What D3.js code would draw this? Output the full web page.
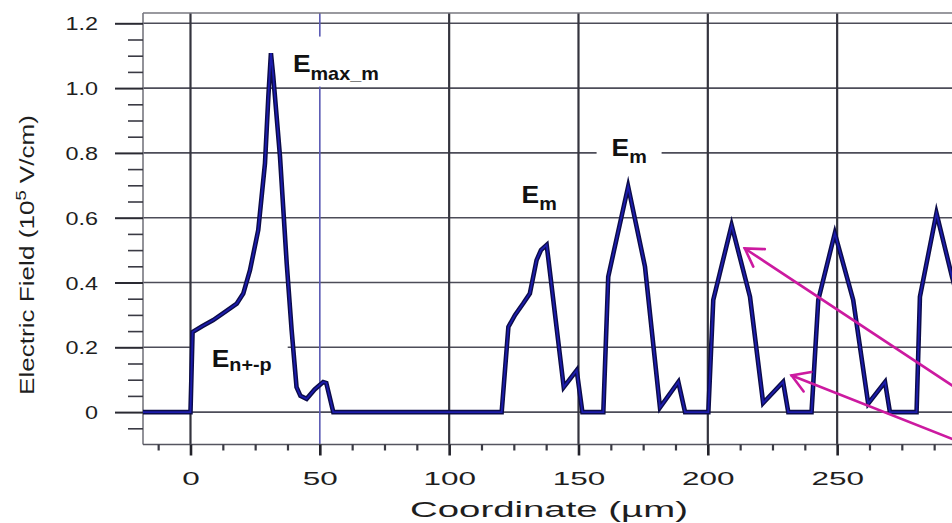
<!DOCTYPE html>
<html><head><meta charset="utf-8">
<script src="https://cdn.jsdelivr.net/npm/d3@7"></script>
<style>body{margin:0;background:#fff;} svg{display:block;}</style>
</head><body>
<svg id="c" width="952" height="523"></svg>
<script>
// ---- data ----
const coordX = [-20, 0, 0.8, 4.5, 8.8, 13.5, 17.9, 20.4, 23, 26.2, 28.8, 30.1, 31.1, 32, 34.6, 37.2, 39.1, 41, 42.5, 44.9,
  48, 51.3, 52.5, 55.2, 120.3, 122.9, 125.5, 128.6, 131.2, 133.8, 135.5, 137.7, 144.3, 149.3, 151.5, 159.6, 161.5, 169.2, 175.7, 181.5,
  188.6, 191.2, 200.2, 202.1, 209.2, 216.3, 221.4, 229.1, 231.1, 240.1, 242.7, 249.1, 256.2, 262, 268.5, 270.4, 280.7, 282, 288.4, 294.4, 300];
const fieldY = [0, 0, 0.247, 0.265, 0.284, 0.31, 0.335, 0.366, 0.438, 0.562, 0.768, 0.974, 1.108, 1.036, 0.789, 0.459, 0.253, 0.077, 0.05, 0.041,
  0.07, 0.093, 0.09, 0, 0, 0.263, 0.3, 0.335, 0.366, 0.469, 0.5, 0.516, 0.077, 0.129, 0, 0, 0.418, 0.696, 0.449, 0.014,
  0.093, 0, 0, 0.346, 0.577, 0.356, 0.028, 0.093, 0, 0, 0.346, 0.552, 0.346, 0.026, 0.093, 0, 0, 0.356, 0.614, 0.418, 0.25];
const xTickValues = [0, 50, 100, 150, 200, 250];
const xTickLabels = ["0", "50", "100", "150", "200", "250"];
const yTickValues = [0, 0.2, 0.4, 0.6, 0.8, 1.0, 1.2];
const yTickLabels = ["0", "0.2", "0.4", "0.6", "0.8", "1.0", "1.2"];
const xTitle = "Coordinate (\u00b5m)";
const yTitleParts = ["Electric Field (10", "5", " V/cm)"];
const annotationMain = ["E", "E", "E", "E"];
const annotationSub = ["max_m", "m", "m", "n+-p"];

// ---- layout ----
const svg = d3.select("#c");
const L = 143, R = 952, T = 13, B = 444.5;
const x = d3.scaleLinear().domain([-18.36, 294.4]).range([L, R]);
const y = d3.scaleLinear().domain([-0.1, 1.2]).range([B, 23.3]);
const FONT = "'Liberation Sans', Arial, Helvetica, sans-serif";

svg.append("rect").attr("width", 952).attr("height", 523).attr("fill", "#fff");

// grid
const grid = svg.append("g");
grid.selectAll("line.h").data(yTickValues).join("line")
  .attr("x1", L).attr("x2", R).attr("y1", d => y(d)).attr("y2", d => y(d))
  .attr("stroke", "#4c4c58").attr("stroke-width", 1.6);
grid.selectAll("line.v").data(xTickValues).join("line")
  .attr("x1", d => x(d)).attr("x2", d => x(d)).attr("y1", T).attr("y2", B)
  .attr("stroke", d => d === 50 ? "#5a5ab4" : "#34343e")
  .attr("stroke-width", d => d === 50 ? 1.6 : 2.2);
// frame top, left, bottom
grid.append("line").attr("x1", L).attr("x2", R).attr("y1", T).attr("y2", T).attr("stroke", "#77777f").attr("stroke-width", 1.6);
grid.append("line").attr("x1", L).attr("x2", L).attr("y1", T).attr("y2", B).attr("stroke", "#77777f").attr("stroke-width", 1.6);
grid.append("line").attr("x1", L).attr("x2", R).attr("y1", B).attr("y2", B).attr("stroke", "#55555f").attr("stroke-width", 1.6);

// y axis (major + minor ticks)
const yMinor = d3.range(-0.05, 1.2, 0.05).filter(v => Math.abs(Math.round(v * 5) - v * 5) > 1e-6);
const yAxisMinor = svg.append("g").attr("transform", `translate(${L},0)`)
  .call(d3.axisLeft(y).tickValues(yMinor).tickSize(15).tickSizeOuter(0).tickFormat(""));
yAxisMinor.select(".domain").remove();
yAxisMinor.selectAll("line").attr("stroke", "#3a3a44").attr("stroke-width", 1.6);
const yAxis = svg.append("g").attr("transform", `translate(${L},0)`)
  .call(d3.axisLeft(y).tickValues(yTickValues).tickSize(28).tickSizeOuter(0)
    .tickFormat((d, i) => yTickLabels[i]));
yAxis.select(".domain").remove();
yAxis.selectAll("line").attr("stroke", "#2a2a33").attr("stroke-width", 2);
yAxis.selectAll("text").attr("x", 0).attr("dy", null).attr("y", 0)
  .attr("transform", "translate(-45,6.6) scale(1.3,1)")
  .attr("font-family", FONT).attr("font-size", 18).attr("fill", "#1e1e1e").attr("text-anchor", "end");

// x axis
const xMinor = d3.range(-12.5, 295, 12.5).filter(v => v % 50 !== 0);
const xAxisMinor = svg.append("g").attr("transform", `translate(0,${B})`)
  .call(d3.axisBottom(x).tickValues(xMinor).tickSize(6).tickSizeOuter(0).tickFormat(""));
xAxisMinor.select(".domain").remove();
xAxisMinor.selectAll("line").attr("stroke", "#3a3a44").attr("stroke-width", 2.2);
const xAxis = svg.append("g").attr("transform", `translate(0,${B})`)
  .call(d3.axisBottom(x).tickValues(xTickValues).tickSize(11).tickSizeOuter(0)
    .tickFormat((d, i) => xTickLabels[i]));
xAxis.select(".domain").remove();
xAxis.selectAll("line").attr("stroke", "#22222a").attr("stroke-width", 2.6);
xAxis.selectAll("text").attr("y", 0).attr("dy", null)
  .attr("transform", "translate(0,40.5) scale(1.75,1)")
  .attr("font-family", FONT).attr("font-size", 18).attr("fill", "#1e1e1e");

// titles
const xt = svg.append("text").attr("font-family", FONT).attr("font-size", 22).attr("fill", "#1e1e1e")
  .attr("text-anchor", "middle").text(xTitle);
{
  const w = xt.node().getComputedTextLength();
  xt.attr("transform", `translate(549,517) scale(${278 / w},1)`);
}
const yt = svg.append("text").attr("font-family", FONT).attr("font-size", 20).attr("fill", "#1e1e1e")
  .attr("text-anchor", "middle");
yt.append("tspan").text(yTitleParts[0]);
yt.append("tspan").attr("font-size", 14).attr("dy", -8).text(yTitleParts[1]);
yt.append("tspan").attr("dy", 8).text(yTitleParts[2]);
{
  const w = yt.node().getComputedTextLength();
  yt.attr("transform", `translate(34,255) rotate(-90) scale(${280 / w},1)`);
}

// annotation label anchors (data units) and white boxes (px offsets)
const annPos = [[39.6, 1.051], [162.8, 0.789], [128.0, 0.645], [8.2, 0.139]];
const annBox = [[-5, -35, 97, 50], [-15, -19, 65, 29], [-14, -25, 69, 37], [-18.5, -30, 94.5, 43]];
const annSubDy = [8, 6.5, 7, 4];
const boxLayer = svg.append("g");
annPos.forEach((p, i) => {
  const b = annBox[i];
  boxLayer.append("rect").attr("x", x(p[0]) + b[0]).attr("y", y(p[1]) + b[1])
    .attr("width", b[2]).attr("height", b[3]).attr("fill", "#fff");
});

// curve
const pts = coordX.map((d, i) => [d, fieldY[i]]);
svg.append("clipPath").attr("id", "clip").append("rect").attr("x", L).attr("y", T).attr("width", R - L).attr("height", B - T);
const line = d3.line().x(d => x(d[0])).y(d => y(d[1]));
const cg = svg.append("g").attr("clip-path", "url(#clip)");
cg.append("path").attr("d", line(pts)).attr("fill", "none").attr("stroke", "#0c0c48")
  .attr("stroke-width", 4.6).attr("stroke-linejoin", "miter").attr("stroke-miterlimit", 6);
cg.append("path").attr("d", line(pts)).attr("fill", "none").attr("stroke", "#1c1cac")
  .attr("stroke-width", 1.8).attr("stroke-linejoin", "miter").attr("stroke-miterlimit", 6);

// labels
annPos.forEach((p, i) => {
  const t = svg.append("text").attr("font-family", FONT).attr("font-weight", "bold").attr("fill", "#111")
    .attr("transform", `translate(${x(p[0])},${y(p[1])}) scale(1.1,1)`);
  t.append("tspan").attr("font-size", 24).text(annotationMain[i]);
  t.append("tspan").attr("font-size", 18).attr("dy", annSubDy[i]).text(annotationSub[i]);
});

// arrows (data units: tip, tail)
const arrows = [[[214.3, 0.505], [312.9, -0.015]], [[232.4, 0.113], [312.9, -0.141]]];
arrows.forEach(a => {
  const tx = x(a[0][0]), ty = y(a[0][1]), sx = x(a[1][0]), sy = y(a[1][1]);
  const ang = Math.atan2(sy - ty, sx - tx);
  const len = 20, spread = 0.55;
  const w1 = [tx + len * Math.cos(ang - spread), ty + len * Math.sin(ang - spread)];
  const w2 = [tx + len * Math.cos(ang + spread), ty + len * Math.sin(ang + spread)];
  const g = svg.append("g").attr("stroke", "#cc1aa0").attr("stroke-width", 2.6).attr("fill", "none").attr("stroke-linecap", "round");
  g.append("line").attr("x1", tx).attr("y1", ty).attr("x2", sx).attr("y2", sy);
  g.append("path").attr("d", `M${w1[0]},${w1[1]}L${tx},${ty}L${w2[0]},${w2[1]}`);
});
</script>
</body></html>
